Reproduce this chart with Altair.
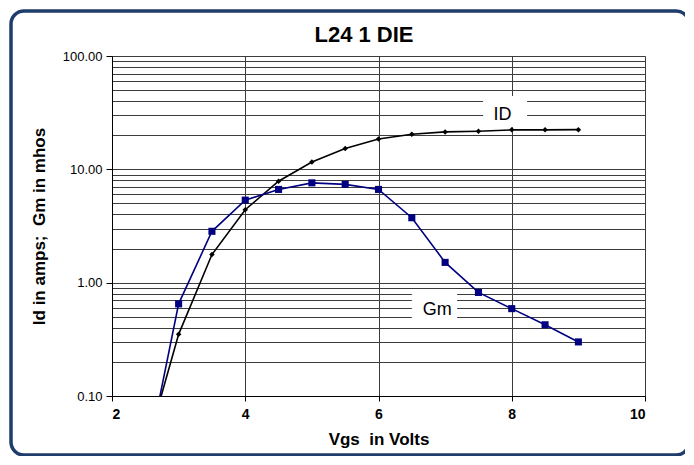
import altair as alt
import pandas as pd

# ---- data ----
vgs = [2.5, 3.0, 3.5, 4.0, 4.5, 5.0, 5.5, 6.0, 6.5, 7.0, 7.5, 8.0, 8.5, 9.0]
id_amps = [0.032, 0.35, 1.77, 4.4, 7.85, 11.6, 15.3, 18.5, 20.4, 21.4, 21.7, 22.3, 22.3, 22.4]
gm_mhos = [0.023, 0.65, 2.84, 5.35, 6.65, 7.6, 7.37, 6.65, 3.74, 1.51, 0.82, 0.59, 0.425, 0.30]

x_ticks = [2, 4, 6, 8, 10]
y_grid = [m * 10.0 ** e for e in (-1, 0, 1) for m in range(1, 10)] + [100.0]

# series label annotations (data coordinates)
ann_text = ["ID", "Gm"]
ann_x = [7.86, 6.88]
ann_y = [30.0, 0.577]
ann_x0 = [7.57, 6.50]
ann_x1 = [8.23, 7.18]
ann_y0 = [23.5, 0.434]
ann_y1 = [44.3, 0.816]

TITLE = "L24 1 DIE"
FONT = "Liberation Sans"

df = pd.DataFrame({"vgs": vgs, "ID": id_amps, "Gm": gm_mhos})
long = df.melt("vgs", var_name="series", value_name="val")
ann = pd.DataFrame({"t": ann_text, "x": ann_x, "y": ann_y,
                    "x0": ann_x0, "x1": ann_x1, "y0": ann_y0, "y1": ann_y1})
title_df = pd.DataFrame({"t": [TITLE]})

xs = alt.Scale(domain=[2, 10], nice=False, zero=False)
ys = alt.Scale(type="log", domain=[0.1, 100], nice=False)

decade_test = "abs(log(datum.value)/LN10 - round(log(datum.value)/LN10)) < 1e-6"

x_axis = alt.Axis(values=x_ticks, format="d", title="Vgs\u00a0 in Volts", grid=True,
                  gridColor="#3c3c3c", gridWidth=1, labelFont=FONT, labelFontSize=14,
                  labelFontWeight="bold", labelColor="#000", labelPadding=6, tickSize=5,
                  tickColor="#000", domainColor="#000", titleFont=FONT, titleFontSize=17,
                  titleFontWeight="bold", titleColor="#000", titlePadding=10)
y_axis = alt.Axis(values=y_grid, title="Id in amps;\u00a0 Gm in mhos", grid=True,
                  gridColor="#3c3c3c", gridWidth=1,
                  labelExpr=f"{decade_test} ? format(datum.value, '.2f') : ''",
                  labelFont=FONT, labelFontSize=13, labelColor="#000", labelPadding=4,
                  tickSize=6, tickColor="#000",
                  tickOpacity={"condition": {"test": decade_test, "value": 1}, "value": 0},
                  domainColor="#000", titleFont=FONT, titleFontSize=17,
                  titleFontWeight="bold", titleColor="#000", titlePadding=14)

base = alt.Chart(long)
colors = alt.Scale(domain=["ID", "Gm"], range=["#000000", "#000080"])

lines = base.mark_line(strokeWidth=1.6, clip=True).encode(
    x=alt.X("vgs:Q", scale=xs, axis=x_axis),
    y=alt.Y("val:Q", scale=ys, axis=y_axis),
    color=alt.Color("series:N", scale=colors, legend=None),
    detail="series:N",
)
pts_id = base.transform_filter("datum.series == 'ID'").mark_point(
    shape="diamond", filled=True, size=30, opacity=1, clip=True, color="#000000"
).encode(x=alt.X("vgs:Q", scale=xs), y=alt.Y("val:Q", scale=ys))
pts_gm = base.transform_filter("datum.series == 'Gm'").mark_point(
    shape="square", filled=True, size=50, opacity=1, clip=True, color="#000080"
).encode(x=alt.X("vgs:Q", scale=xs), y=alt.Y("val:Q", scale=ys))

boxes = alt.Chart(ann).mark_rect(fill="white").encode(
    x=alt.X("x0:Q", scale=xs), x2="x1:Q",
    y=alt.Y("y0:Q", scale=ys), y2="y1:Q",
)
labels = alt.Chart(ann).mark_text(font=FONT, fontSize=18, color="#000",
                                  baseline="middle", align="center").encode(
    x=alt.X("x:Q", scale=xs), y=alt.Y("y:Q", scale=ys), text="t:N")

border = alt.Chart(title_df).mark_rect(filled=False, stroke="#1f3d6b", strokeWidth=3.5,
                                       cornerRadius=13, clip=False).encode(
    x=alt.value(-101), x2=alt.value(577), y=alt.value(-45), y2=alt.value(399))

title = alt.Chart(title_df).mark_text(font=FONT, fontSize=22, fontWeight="bold",
                                      color="#000", align="center",
                                      baseline="alphabetic", clip=False).encode(
    x=alt.value(252), y=alt.value(-14), text="t:N")

chart = alt.layer(border, title, boxes, lines, pts_id, pts_gm, labels).properties(
    width=533, height=340,
    autosize=alt.AutoSizeParams(type="none"),
    padding={"left": 104, "top": 48, "right": 40, "bottom": 60},
).configure_view(stroke="#3c3c3c").configure(background="white")

chart.save("out.html", embed_options={"renderer": "svg", "actions": False})
